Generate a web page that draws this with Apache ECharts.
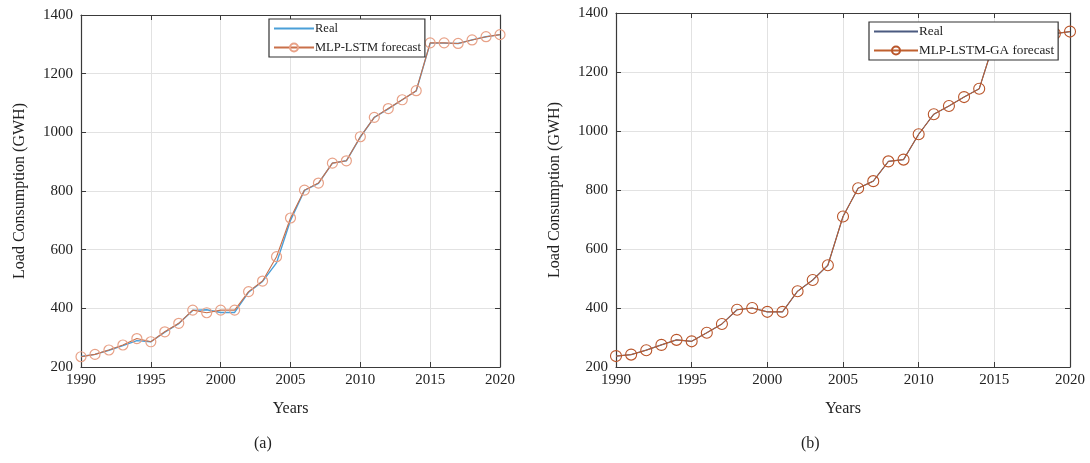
<!DOCTYPE html>
<html>
<head>
<meta charset="utf-8">
<script src="https://cdn.jsdelivr.net/npm/echarts@6/dist/echarts.min.js"></script>
<style>
  html, body { margin: 0; padding: 0; background: #fff; }
  #chart { width: 1090px; height: 463px; }
</style>
</head>
<body>
<div id="chart"></div>
<script>
const years = [1990, 1991, 1992, 1993, 1994, 1995, 1996, 1997, 1998, 1999, 2000,
  2001, 2002, 2003, 2004, 2005, 2006, 2007, 2008, 2009, 2010,
  2011, 2012, 2013, 2014, 2015, 2016, 2017, 2018, 2019, 2020]

// (a) real load and MLP-LSTM forecast
const realA = [236, 243, 257, 273, 290, 286, 319, 348, 393, 395, 386,
  386, 455, 492, 555, 700, 802, 826, 895, 903, 984,
  1051, 1080, 1111, 1141, 1304, 1304, 1303, 1315, 1326, 1333]
const lstmA = [235, 243, 258, 275, 297, 286, 320, 349, 394, 385, 394,
  394, 457, 493, 576, 708, 803, 827, 895, 903, 985,
  1051, 1081, 1111, 1142, 1305, 1305, 1303, 1315, 1326, 1333]

// (b) real load and MLP-LSTM-GA forecast
const realB = [237, 242, 257, 275, 292, 287, 316, 346, 394, 400, 387,
  387, 457, 495, 545, 710, 806, 830, 897, 903, 989,
  1057, 1085, 1115, 1143, 1305, 1305, 1305, 1317, 1330, 1337]
const gaB = [237, 242, 257, 275, 292, 287, 316, 346, 394, 400, 387,
  387, 457, 495, 545, 710, 806, 830, 897, 903, 989,
  1057, 1085, 1115, 1143, 1305, 1305, 1305, 1317, 1330, 1337]

const yTicks = [200, 400, 600, 800, 1000, 1200, 1400]
const xTicks = [1990, 1995, 2000, 2005, 2010, 2015, 2020]

const pairs = (ys) => years.map((x, i) => [x, ys[i]])
const serif = '"Liberation Serif", "DejaVu Serif", serif'

const grids = [
  { left: 81, top: 15, width: 419, height: 352 },
  { left: 616, top: 13, width: 454, height: 354 }
]

const xAxisBase = (gi, show) => ({
  type: 'value',
  gridIndex: gi,
  min: xTicks[0],
  max: xTicks[xTicks.length - 1],
  interval: 5,
  position: show ? 'bottom' : 'top',
  axisLine: { show: true, onZero: false, lineStyle: { color: '#3a3a3a', width: 1.2 } },
  axisTick: { show: true, inside: true, length: 5, lineStyle: { color: '#3a3a3a' } },
  axisLabel: {
    show: show,
    color: '#222',
    fontFamily: serif,
    fontSize: 15,
    margin: 6,
    formatter: (v) => String(v)
  },
  splitLine: { show: show, lineStyle: { color: '#e2e2e2' } },
  name: show ? 'Years' : '',
  nameLocation: 'middle',
  nameGap: 34,
  nameTextStyle: { color: '#222', fontFamily: serif, fontSize: 16 }
})

const yAxisBase = (gi, show) => ({
  type: 'value',
  gridIndex: gi,
  min: yTicks[0],
  max: yTicks[yTicks.length - 1],
  interval: 200,
  position: show ? 'left' : 'right',
  axisLine: { show: true, lineStyle: { color: '#3a3a3a', width: 1.2 } },
  axisTick: { show: true, inside: true, length: 5, lineStyle: { color: '#3a3a3a' } },
  axisLabel: {
    show: show,
    color: '#222',
    fontFamily: serif,
    fontSize: 15,
    margin: 8,
    formatter: (v) => String(v)
  },
  splitLine: { show: show, lineStyle: { color: '#e2e2e2' } },
  name: show ? 'Load Consumption (GWH)' : '',
  nameLocation: 'middle',
  nameGap: 53,
  nameTextStyle: { color: '#222', fontFamily: serif, fontSize: 16 }
})

const legendBase = {
  orient: 'vertical',
  backgroundColor: '#fff',
  borderColor: '#333',
  borderWidth: 1.2,
  borderRadius: 0,
  padding: [3, 4, 3, 4],
  itemGap: 6,
  itemWidth: 40,
  itemHeight: 10,
  textStyle: { color: '#222', fontFamily: serif, fontSize: 12.5, padding: [0, 0, 0, -4] }
}

const chart = echarts.init(document.getElementById('chart'))
chart.setOption({
  animation: false,
  backgroundColor: '#fff',
  grid: grids,
  xAxis: [xAxisBase(0, true), xAxisBase(0, false), xAxisBase(1, true), xAxisBase(1, false)],
  yAxis: [yAxisBase(0, true), yAxisBase(0, false), yAxisBase(1, true), yAxisBase(1, false)],
  legend: [
    Object.assign({}, legendBase, {
      left: 269, top: 19,
      data: [{ name: 'Real', itemStyle: { opacity: 0 } }, 'MLP-LSTM forecast']
    }),
    Object.assign({}, legendBase, {
      left: 869, top: 22, itemWidth: 44,
      textStyle: Object.assign({}, legendBase.textStyle, { fontSize: 13.2 }),
      data: [{ name: 'Real ', itemStyle: { opacity: 0 } }, 'MLP-LSTM-GA forecast']
    })
  ],
  series: [
    {
      name: 'Real',
      type: 'line',
      xAxisIndex: 0,
      yAxisIndex: 0,
      data: pairs(realA),
      symbol: 'none',
      lineStyle: { color: '#4a9fd8', width: 1.4 },
      itemStyle: { color: '#4a9fd8' },
      z: 2
    },
    {
      name: 'MLP-LSTM forecast',
      type: 'line',
      xAxisIndex: 0,
      yAxisIndex: 0,
      data: pairs(lstmA),
      symbol: 'circle',
      symbolSize: 10,
      lineStyle: { color: '#c9704a', width: 1.1 },
      itemStyle: { color: 'rgba(0,0,0,0)', borderColor: '#e8a288', borderWidth: 1.2 },
      z: 3
    },
    {
      name: 'Real ',
      type: 'line',
      xAxisIndex: 2,
      yAxisIndex: 2,
      data: pairs(realB),
      symbol: 'none',
      lineStyle: { color: '#4b5a80', width: 1.2 },
      itemStyle: { color: '#4b5a80' },
      z: 2
    },
    {
      name: 'MLP-LSTM-GA forecast',
      type: 'line',
      xAxisIndex: 2,
      yAxisIndex: 2,
      data: pairs(gaB),
      symbol: 'circle',
      symbolSize: 11,
      lineStyle: { color: '#c0602f', width: 1 },
      itemStyle: { color: 'rgba(0,0,0,0)', borderColor: '#b9552a', borderWidth: 1.1 },
      z: 3
    }
  ],
  graphic: [
    { type: 'text', left: 254, top: 436, style: { text: '(a)', fontFamily: serif, fontSize: 16, fill: '#222' } },
    { type: 'text', left: 801, top: 436, style: { text: '(b)', fontFamily: serif, fontSize: 16, fill: '#222' } }
  ]
})
</script>
</body>
</html>
